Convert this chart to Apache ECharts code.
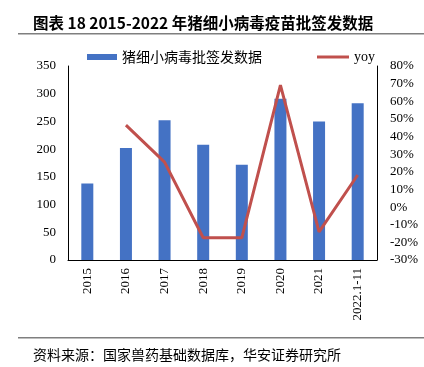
<!DOCTYPE html>
<html>
<head>
<meta charset="utf-8">
<script src="https://cdn.jsdelivr.net/npm/echarts@6/dist/echarts.min.js"></script>
<style>
  html, body { margin: 0; padding: 0; background: #fff; }
  #chart { width: 424px; height: 367px; }
</style>
</head>
<body>
<div id="chart"></div>
<script>
// data
const years = ['2015', '2016', '2017', '2018', '2019', '2020', '2021', '2022.1-11'];
const batches = [138, 202, 252, 208, 172, 291, 250, 283];
const yoy = [null, 46.5, 25.5, -17.4, -17.4, 69.2, -14, 18.2];

const serif = '"Liberation Serif", "Times New Roman", serif';
const cjk = '"Noto Sans CJK SC", sans-serif';

const chart = echarts.init(document.getElementById('chart'));

chart.setOption({
  backgroundColor: '#fff',
  animation: false,
  title: [
    {
      text: '图表 18 2015-2022 年猪细小病毒疫苗批签发数据',
      left: 28,
      top: 10,
      textStyle: { fontFamily: cjk, fontSize: 15.5, fontWeight: 'bold', color: '#000' },
    },
    {
      text: '资料来源：国家兽药基础数据库，华安证券研究所',
      left: 28,
      top: 343,
      textStyle: { fontFamily: cjk, fontSize: 14, fontWeight: 'normal', color: '#000' },
    },
  ],
  graphic: [
    { type: 'rect', shape: { x: 18, y: 33, width: 406, height: 1.5 }, style: { fill: '#7f7f7f' } },
    { type: 'rect', shape: { x: 18, y: 337, width: 406, height: 1.5 }, style: { fill: '#7f7f7f' } },
  ],
  legend: [
    {
      data: [{ name: '猪细小病毒批签发数据', icon: 'rect' }],
      left: 82,
      top: 45,
      itemWidth: 30,
      itemHeight: 6,
      itemGap: 6,
      textStyle: { fontFamily: cjk, fontSize: 14, color: '#000' },
    },
    {
      data: [{ name: 'yoy', icon: 'rect' }],
      left: 312,
      top: 45,
      itemWidth: 32,
      itemHeight: 3,
      itemGap: 3,
      textStyle: { fontFamily: serif, fontSize: 14, color: '#000' },
    },
  ],
  grid: { left: 68, right: 47, top: 66, bottom: 107 },
  xAxis: {
    type: 'category',
    data: years,
    axisLine: { lineStyle: { color: '#000', width: 1 } },
    axisTick: { show: false },
    axisLabel: { rotate: 90, color: '#000', fontFamily: serif, fontSize: 13, margin: 8, interval: 0 },
  },
  yAxis: [
    {
      type: 'value',
      min: 0,
      max: 350,
      interval: 50,
      axisLine: { show: true, lineStyle: { color: '#000', width: 1 } },
      axisTick: { show: false },
      splitLine: { show: false },
      axisLabel: { color: '#000', fontFamily: serif, fontSize: 13, margin: 12 },
    },
    {
      type: 'value',
      min: -30,
      max: 80,
      interval: 10,
      axisLine: { show: true, lineStyle: { color: '#000', width: 1 } },
      axisTick: { show: false },
      splitLine: { show: false },
      axisLabel: { color: '#000', fontFamily: serif, fontSize: 13, margin: 13, formatter: '{value}%' },
    },
  ],
  series: [
    {
      name: '猪细小病毒批签发数据',
      type: 'bar',
      data: batches,
      barWidth: 12,
      itemStyle: { color: '#4472C4' },
    },
    {
      name: 'yoy',
      type: 'line',
      yAxisIndex: 1,
      data: yoy,
      symbol: 'none',
      lineStyle: { color: '#C0504D', width: 3 },
      itemStyle: { color: '#C0504D' },
    },
  ],
});
</script>
</body>
</html>
